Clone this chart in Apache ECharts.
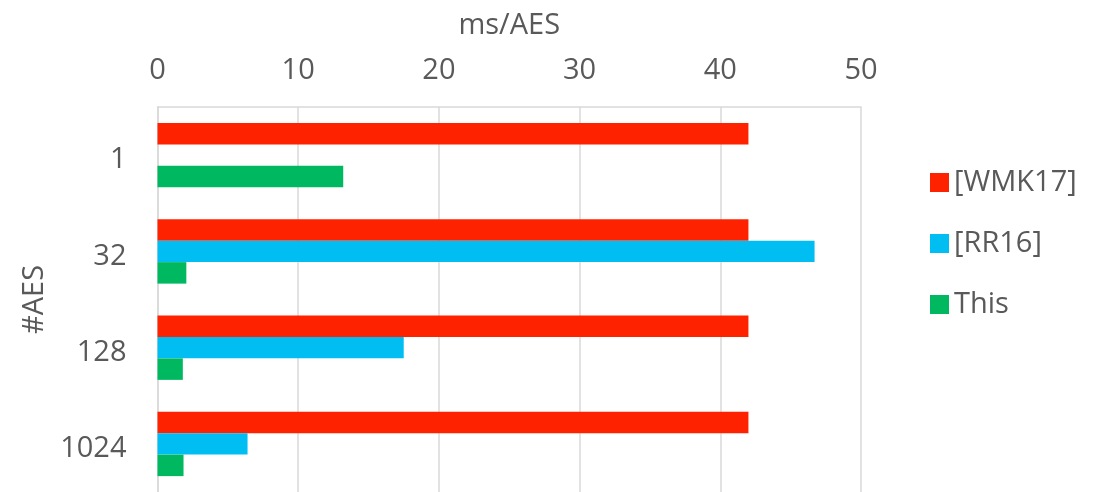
<!DOCTYPE html>
<html>
<head>
<meta charset="utf-8">
<script src="https://cdn.jsdelivr.net/npm/echarts@6/dist/echarts.min.js"></script>
<style>
  html, body { margin: 0; padding: 0; background: #fff; }
  #chart { width: 1099px; height: 492px; }
</style>
</head>
<body>
<div id="chart"></div>
<script>
// categories (top to bottom) and series values
var categories = ["1", "32", "128", "1024"];
var wmk17 = [42, 42, 42, 42];
var rr16 = ["-", 46.7, 17.5, 6.4];
var thisWork = [13.2, 2.05, 1.8, 1.85];
var xTicks = { min: 0, max: 50, interval: 10 };

var chart = echarts.init(document.getElementById("chart"));
var font = "'Open Sans', 'DejaVu Sans', sans-serif";
var grey = "#595959";
var gridGrey = "#D9D9D9";
var fs = 29;

var option = {
  animation: false,
  backgroundColor: "#fff",
  textStyle: { fontFamily: font },
  grid: {
    left: 157.5,
    top: 107,
    width: 703.5,
    height: 387
  },
  legend: {
    orient: "vertical",
    left: 925,
    top: 163,
    itemWidth: 19,
    itemHeight: 19,
    itemGap: 32,
    icon: "rect",
    textStyle: { fontSize: fs, color: grey, fontFamily: font, padding: [3, 0, 0, 0] },
    data: ["[WMK17]", "[RR16]", "This"]
  },
  xAxis: {
    type: "value",
    position: "top",
    min: xTicks.min,
    max: xTicks.max,
    interval: xTicks.interval,
    name: "ms/AES",
    nameLocation: "middle",
    nameGap: 81,
    nameTextStyle: { fontSize: fs, color: grey, verticalAlign: "middle" },
    axisLine: { show: true, lineStyle: { color: gridGrey, width: 1.5 } },
    axisTick: { show: false },
    axisLabel: { fontSize: fs, color: grey, margin: 22 },
    splitLine: { show: true, lineStyle: { color: gridGrey, width: 1.5 } }
  },
  yAxis: {
    type: "category",
    inverse: true,
    data: categories,
    name: "#AES",
    nameLocation: "middle",
    nameRotate: 90,
    nameGap: 106,
    nameTextStyle: { fontSize: fs, color: grey },
    axisLine: { show: true, lineStyle: { color: gridGrey, width: 1.5 } },
    axisTick: { show: false },
    axisLabel: { fontSize: fs, color: grey, margin: 31, verticalAlign: "top", lineHeight: 10 },
    splitLine: { show: false }
  },
  series: [
    {
      name: "[WMK17]",
      type: "bar",
      data: wmk17,
      barGap: "0%",
      barCategoryGap: "33%",
      itemStyle: { color: "#FF2200" }
    },
    {
      name: "[RR16]",
      type: "bar",
      data: rr16,
      itemStyle: { color: "#00BEF2" }
    },
    {
      name: "This",
      type: "bar",
      data: thisWork,
      itemStyle: { color: "#00B860" }
    }
  ]
};
chart.setOption(option);
</script>
</body>
</html>
